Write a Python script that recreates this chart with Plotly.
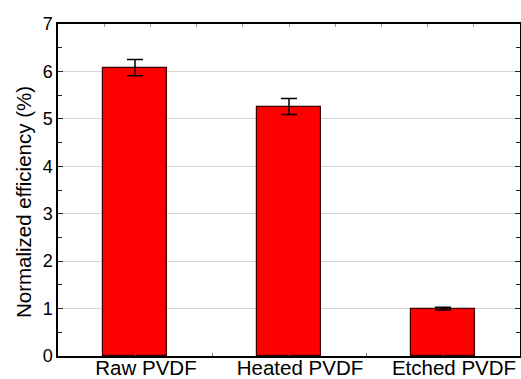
import plotly.graph_objects as go

categories = ["Raw PVDF", "Heated PVDF", "Etched PVDF"]
efficiency = [6.08, 5.26, 1.0]
errors = [0.17, 0.17, 0.03]
y_ticks = [0, 1, 2, 3, 4, 5, 6, 7]
y_title = "Normalized efficiency (%)"

xpos = list(range(1, len(categories) + 1))

FONT = "Liberation Sans, Arial, sans-serif"

fig = go.Figure()
fig.add_trace(go.Bar(
    x=xpos, y=efficiency, width=0.41,
    marker=dict(color="#ff0000", line=dict(color="#3a0000", width=1.2)),
    error_y=dict(type="data", array=errors, visible=True, color="black",
                 thickness=1.5, width=8),
    showlegend=False,
))
# invisible trace for top axis
fig.add_trace(go.Scatter(x=[0.5, 3.5], y=[0, 0], xaxis="x2", mode="markers",
                         marker=dict(opacity=0), showlegend=False, hoverinfo="skip"))

fig.add_annotation(
    text=y_title, textangle=-90, showarrow=False,
    xref="paper", yref="paper", x=0, y=0.5,
    xanchor="center", yanchor="middle", xshift=-35, yshift=-12,
    font=dict(family=FONT, size=20.5, color="black"),
)

fig.update_layout(
    width=521, height=379,
    margin=dict(l=58, r=1, t=24, b=23),
    paper_bgcolor="white", plot_bgcolor="white",
    font=dict(family=FONT, size=18, color="black"),
    bargap=0,
    xaxis=dict(
        range=[0.5, 3.5], tickvals=xpos, ticktext=categories,
        ticks="inside", ticklen=4, tickwidth=1, tickcolor="#555",
        minor=dict(tickvals=[1.5, 2.5], ticks="inside", ticklen=3, tickcolor="#777"),
        showline=True, linecolor="black", linewidth=1.5,
        showgrid=False, zeroline=False, automargin=False,
        tickfont=dict(size=20.5), ticklabelstandoff=-7, ticklabelshift=11,
    ),
    xaxis2=dict(
        overlaying="x", side="top", range=[0.5, 3.5],
        tick0=0.5, dtick=0.3, ticks="inside", ticklen=3, tickcolor="#999",
        showticklabels=False, showline=True, linecolor="black", linewidth=1.5,
        showgrid=False, zeroline=False, automargin=False,
    ),
    yaxis=dict(
        range=[0, 7], tickvals=y_ticks,
        ticks="inside", ticklen=5, tickwidth=1, tickcolor="#222",
        minor=dict(dtick=0.5, ticks="inside", ticklen=4, tickcolor="#222", showgrid=False),
        showline=True, linecolor="black", linewidth=1.5, mirror="ticks",
        showgrid=True, gridcolor="#d4d4d4", gridwidth=1,
        zeroline=False, automargin=False,
        tickfont=dict(size=18),
    ),
)

fig.write_html("out.html")
